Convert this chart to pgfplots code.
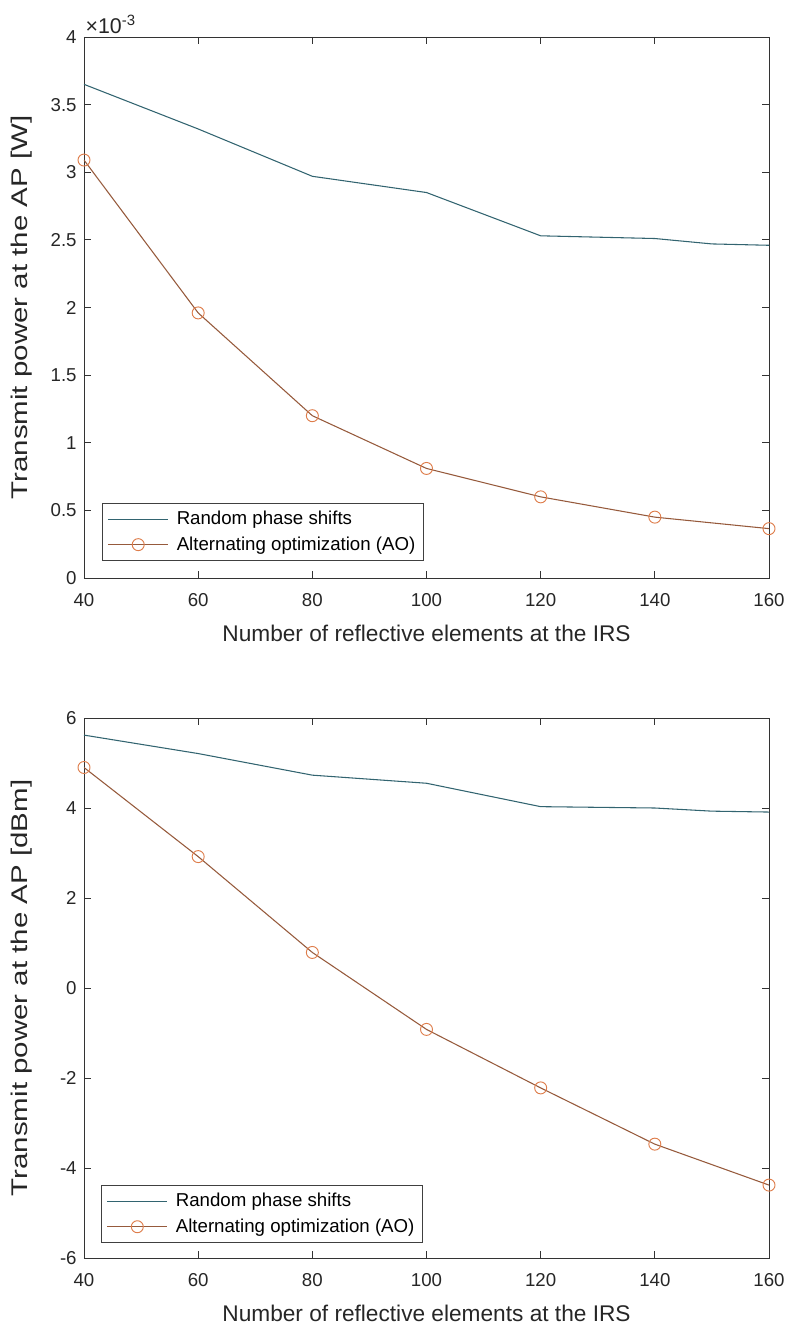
\documentclass[border=0pt]{standalone}
\usepackage{fontspec}
\setmainfont{Liberation Sans}
\usepackage{pgfplots}
\pgfplotsset{compat=1.18}
\definecolor{rndc}{RGB}{50,100,112}
\definecolor{aol}{RGB}{150,90,60}
\definecolor{aom}{RGB}{222,125,75}
\pgfplotsset{
  matlab/.style={
    scale only axis, width=513.75pt,
    xmin=40,xmax=160, xtick={40,60,...,160},
    tick align=inside, major tick length=5pt,
    axis line style={black!80, line width=0.6pt},
    every tick/.style={black!80, line width=0.6pt},
    /pgf/number format/assume math mode=true,
    tick label style={font=\fontsize{14}{16}\selectfont, black!85},
    xticklabel style={yshift=-8pt},
    yticklabel style={xshift=-2pt},
    label style={font=\fontsize{17}{20}\selectfont, black!85},
    xlabel style={at={(axis description cs:0.5,0)}, anchor=center, yshift=-41.5pt},
    ylabel style={at={(axis description cs:-0.0905,0.5)}, anchor=center, xscale=1.3},
    legend cell align=left,
    legend style={font=\fontsize{14}{16}\selectfont, draw=black!75, line width=0.5pt, anchor=north west, inner xsep=4pt, inner ysep=4pt, row sep=3.5pt,
      /tikz/every odd column/.append style={column sep=4pt}},
    legend image code/.code={\draw[mark repeat=2,mark phase=2,##1] plot coordinates {(0pt,0pt) (22.5pt,0pt) (45pt,0pt)};},
  },
  rnd/.style={rndc, line width=0.8pt, no markers},
  ao/.style={aol, line width=0.8pt, mark=o, mark size=4.5pt, mark options={draw=aom, line width=0.7pt}},
}
\begin{document}
\begin{tikzpicture}
\begin{axis}[matlab, at={(0,0)}, anchor=north west, height=405.75pt,
  ymin=0, ymax=0.004, ytick={0,0.0005,0.001,0.0015,0.002,0.0025,0.003,0.0035,0.004},
  scaled y ticks=base 10:3,
  ytick scale label code/.code={×10\textsuperscript{#1}},
  every y tick scale label/.style={at={(rel axis cs:0,1)}, anchor=south west, inner sep=1pt, xshift=2pt, yshift=1pt, font=\fontsize{16}{18}\selectfont, black!85},
  xlabel={Number of reflective elements at the IRS},
  ylabel={Transmit power at the AP [W]},
  legend style={at={(0.0263,0.1386)}}]
\addplot[rnd] coordinates {(40,0.00365) (60,0.00332) (80,0.00297) (100,0.00285) (120,0.00253) (140,0.00251) (150,0.00247) (160,0.00246)};
\addlegendentry{Random phase shifts}
\addplot[ao] coordinates {(40,0.00309) (60,0.00196) (80,0.00120) (100,0.00081) (120,0.00060) (140,0.00045) (160,0.000365)};
\addlegendentry{Alternating optimization (AO)}
\end{axis}
\begin{axis}[matlab, at={(0,-510.75pt)}, anchor=north west, height=405pt,
  ymin=-6, ymax=6, ytick={-6,-4,...,6},
  xlabel={Number of reflective elements at the IRS},
  ylabel={Transmit power at the AP [dBm]},
  legend style={at={(0.025,0.135)}}]
\addplot[rnd] coordinates {(40,5.62) (60,5.21) (80,4.73) (100,4.55) (120,4.03) (140,4.00) (150,3.93) (160,3.91)};
\addlegendentry{Random phase shifts}
\addplot[ao] coordinates {(40,4.90) (60,2.92) (80,0.79) (100,-0.92) (120,-2.22) (140,-3.47) (160,-4.38)};
\addlegendentry{Alternating optimization (AO)}
\end{axis}
\pgfresetboundingbox
\path[use as bounding box] (-63pt,27.75pt) rectangle (528.75pt,-966.75pt);
\end{tikzpicture}
\end{document}
